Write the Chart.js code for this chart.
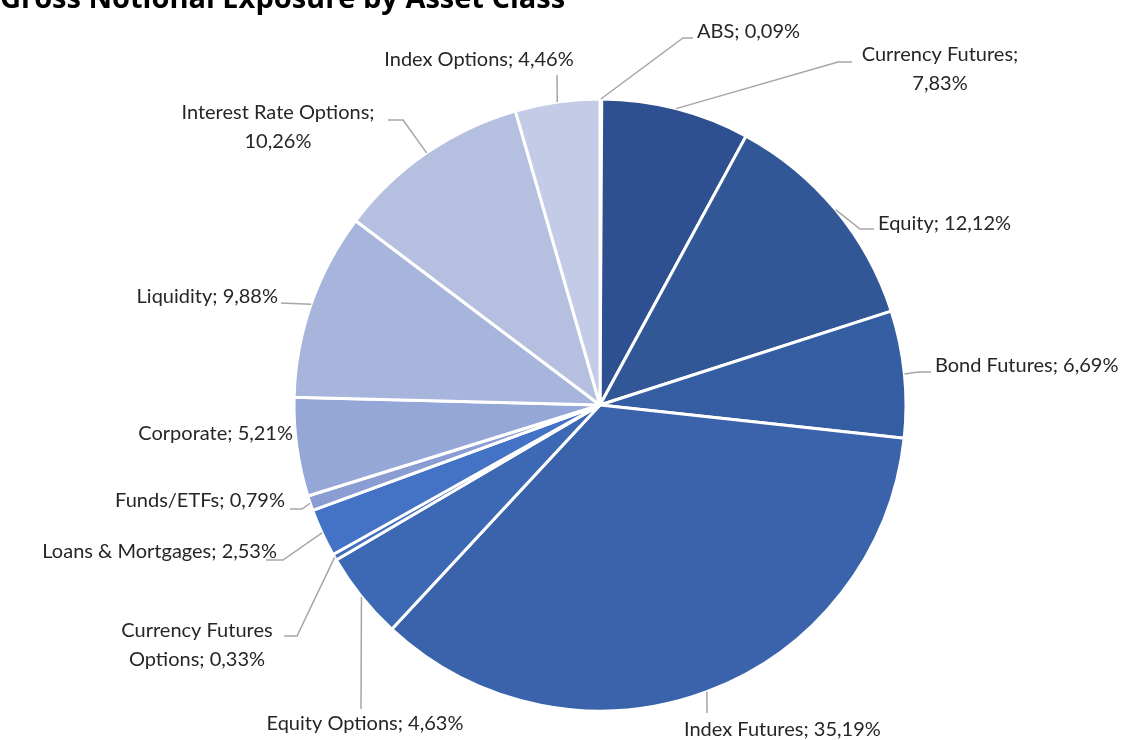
<!DOCTYPE html>
<html>
<head>
<meta charset="utf-8">
<title>Gross Notional Exposure by Asset Class</title>
<script src="https://cdn.jsdelivr.net/npm/chart.js@4.4.1/dist/chart.umd.min.js"></script>
<style>
  html, body { margin: 0; padding: 0; background: #fff; }
  #wrap { width: 1138px; height: 740px; }
</style>
</head>
<body>
<div id="wrap"><canvas id="exposureChart" width="1138" height="740"></canvas></div>
<script>
const chartTitle = "Gross Notional Exposure by Asset Class";

const categories = [
  "ABS", "Currency Futures", "Equity", "Bond Futures", "Index Futures",
  "Equity Options", "Currency Futures Options", "Loans & Mortgages",
  "Funds/ETFs", "Corporate", "Liquidity", "Interest Rate Options", "Index Options"
];
const exposurePct = [0.09, 7.83, 12.12, 6.69, 35.19, 4.63, 0.33, 2.53, 0.79, 5.21, 9.88, 10.26, 4.46];
const sliceColors = [
  "#2c4b84", "#2f5090", "#315797", "#355da2", "#3a63ab", "#3d69b4", "#416ebd",
  "#4472c4", "#8a9dd2", "#95a7d6", "#a7b4db", "#b5c0e1", "#c3cbe7"
];

// where each data label sits and how its leader line bends
const labelLayout = [
  { x: 697, y: 32,  align: "left",   path: [[683, 38], [693, 38]] },
  { x: 940, y: 55,  align: "center", split: 2, path: [[838, 62], [852, 62]] },
  { x: 878, y: 224, align: "left",   path: [[860, 229], [874, 229]] },
  { x: 935, y: 366, align: "left",   path: [[918, 372], [931, 372]] },
  { x: 684, y: 730, align: "left",   path: [[707, 713]] },
  { x: 365, y: 724, align: "center", path: [[361, 709]] },
  { x: 197, y: 631, align: "center", split: 2, path: [[297, 636], [284, 636]] },
  { x: 277, y: 552, align: "right",  path: [[283, 560], [266, 560]] },
  { x: 285, y: 501, align: "right",  path: [[302, 509], [290, 509]] },
  { x: 293, y: 434, align: "right",  path: [] },
  { x: 278, y: 297, align: "right",  path: [[281, 303]] },
  { x: 278, y: 113, align: "center", split: 3, path: [[403, 120], [388, 120]] },
  { x: 479, y: 60,  align: "center", path: [[557, 75]] }
];

const labelFont = '20px Lato, "Open Sans", sans-serif';
const lineGap = 29;

function fmtPct(v) {
  return v.toFixed(2).replace(".", ",") + "%";
}

function labelLines(i) {
  const full = categories[i] + "; " + fmtPct(exposurePct[i]);
  const n = labelLayout[i].split;
  if (!n) return [full];
  const words = full.split(" ");
  return [words.slice(0, n).join(" "), words.slice(n).join(" ")];
}

const outsideLabels = {
  id: "outsideLabels",
  afterDatasetsDraw(chart) {
    const ctx = chart.ctx;
    const arcs = chart.getDatasetMeta(0).data;
    ctx.save();
    arcs.forEach((arc, i) => {
      const lay = labelLayout[i];
      const p = arc.getProps(["x", "y", "startAngle", "endAngle", "outerRadius"], true);
      const mid = (p.startAngle + p.endAngle) / 2;
      const sx = p.x + Math.cos(mid) * p.outerRadius;
      const sy = p.y + Math.sin(mid) * p.outerRadius;

      if (lay.path.length) {
        ctx.strokeStyle = "#a6a6a6";
        ctx.lineWidth = 1.5;
        ctx.beginPath();
        ctx.moveTo(sx, sy);
        lay.path.forEach(pt => ctx.lineTo(pt[0], pt[1]));
        ctx.stroke();
      }

      ctx.fillStyle = "#262626";
      ctx.font = labelFont;
      ctx.textAlign = lay.align;
      ctx.textBaseline = "middle";
      labelLines(i).forEach((line, k) => {
        ctx.fillText(line, lay.x, lay.y + k * lineGap);
      });
    });

    // title sits partly above the top edge
    ctx.fillStyle = "#000";
    ctx.font = 'bold 29px "Open Sans", sans-serif';
    ctx.textAlign = "left";
    ctx.textBaseline = "alphabetic";
    ctx.fillText(chartTitle, 0, 8);
    ctx.restore();
  }
};

const ctx = document.getElementById("exposureChart").getContext("2d");

new Chart(ctx, {
  type: "pie",
  data: {
    labels: categories,
    datasets: [{
      data: exposurePct,
      backgroundColor: sliceColors,
      borderColor: "#ffffff",
      borderWidth: 3,
      hoverBorderWidth: 3,
      hoverOffset: 0,
      offset: 0
    }]
  },
  options: {
    responsive: false,
    devicePixelRatio: 1,
    animation: false,
    layout: {
      padding: { left: 292.5, right: 230.5, top: 97.5, bottom: 27.5 }
    },
    plugins: {
      legend: { display: false },
      tooltip: { enabled: false },
      title: { display: false }
    },
    events: []
  },
  plugins: [outsideLabels]
});
</script>
</body>
</html>
